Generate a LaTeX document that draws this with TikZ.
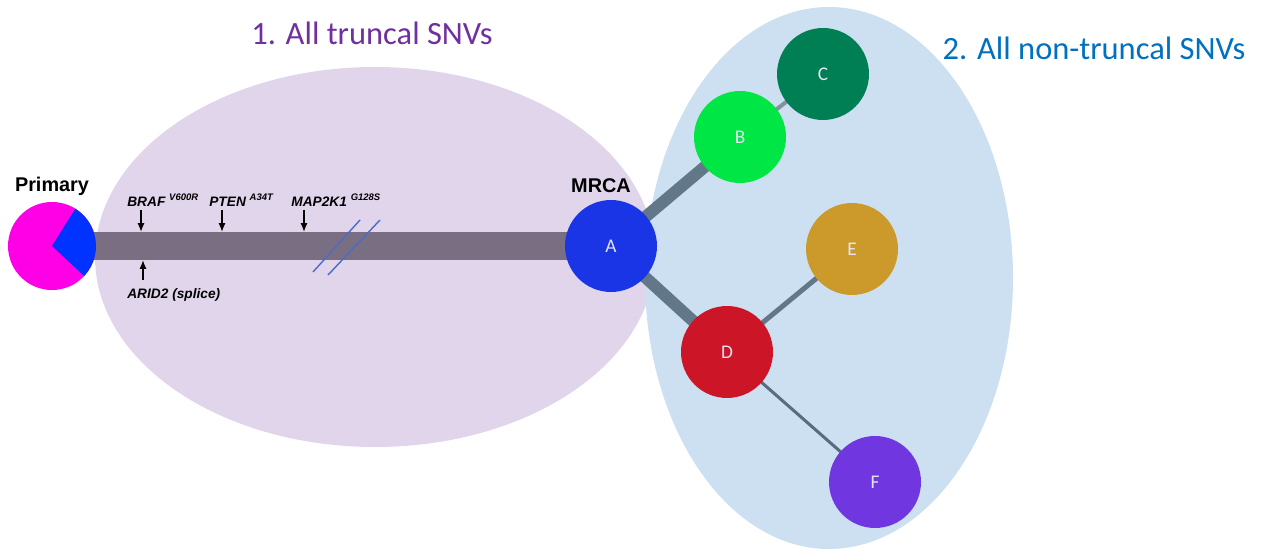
\documentclass[tikz,border=0pt]{standalone}
\usepackage{fontspec}
\setmainfont{Carlito}
\newfontfamily\arialfont{Liberation Sans}
\usetikzlibrary{arrows.meta,calc}
\definecolor{truncalbg}{HTML}{E1D5EB}
\definecolor{branchbg}{HTML}{CCE0F1}
\definecolor{truncaltxt}{HTML}{7030A0}
\definecolor{branchtxt}{HTML}{0070C0}
\definecolor{trunk}{HTML}{7A6E82}
\definecolor{edgecol}{HTML}{627888}
\definecolor{breakcol}{HTML}{4A6CC8}
\definecolor{piemag}{HTML}{FF00E6}
\definecolor{pieblue}{HTML}{0033FF}
\definecolor{cA}{HTML}{1A35E6}
\definecolor{cB}{HTML}{00E645}
\definecolor{cC}{HTML}{007F55}
\definecolor{cD}{HTML}{CC1628}
\definecolor{cE}{HTML}{CC9A2B}
\definecolor{cF}{HTML}{7036DF}
\definecolor{clonetxt}{HTML}{E4E4F4}
\tikzset{
  clone/.style={circle, minimum size=1.84cm, inner sep=0pt, text=clonetxt,
    font=\fontsize{11}{13}\selectfont},
  title/.style={font=\fontsize{18.5}{22}\selectfont},
  gene/.style={anchor=base west, inner sep=0pt,
    font=\arialfont\bfseries\itshape\fontsize{7.8}{9}\selectfont},
  mut/.style={-{Latex[length=5pt,width=4pt]}, line width=0.9pt},
  branch/.style={edgecol, line cap=butt},
  brk/.style={breakcol, line width=0.8pt},
  bold label/.style={font=\arialfont\bfseries\fontsize{11.3}{13}\selectfont, inner sep=0pt}
}
\newcommand{\mutsup}[1]{\ \raisebox{0.45em}{\fontsize{5.4}{6}\selectfont #1}}
\begin{document}
\begin{tikzpicture}[x=0.02cm, y=-0.02cm]
\useasboundingbox (0,0) rectangle (1263,550);

% background groups
\fill[truncalbg] (375,257) ellipse [x radius=280, y radius=190];
\fill[branchbg] (829,278) ellipse [x radius=184, y radius=271];

\node[title, text=truncaltxt] (t1) at (372,33) {1. All truncal SNVs};
\node[title, text=branchtxt] (t2) at (1094,48) {2. All non-truncal SNVs};

% node positions
\coordinate (pc) at (52,246);
\coordinate (ac) at (611,246);
\coordinate (bc) at (740,137);
\coordinate (cc) at (823,74);
\coordinate (dc) at (727,352);
\coordinate (ec) at (852,249);
\coordinate (fc) at (875,482);

% truncal trunk
\fill[trunk] ($(pc)+(0,-14)$) rectangle ($(ac)+(0,14)$);
\draw[brk] (313,272) -- (360,220);
\draw[brk] (328,275) -- (380,220);

% branches
\draw[branch, line width=0.24cm] (ac) -- (bc);
\draw[branch, line width=0.24cm] (ac) -- (dc);
\draw[branch, edgecol!80!white, line width=0.08cm] (bc) -- (cc);
\draw[branch, line width=0.1cm] (dc) -- (ec);
\draw[branch, edgecol!90!black, line width=0.06cm] (dc) -- (fc);

% primary tumour pie
\node[circle, minimum size=1.76cm, inner sep=0pt, fill=piemag] (pie) at (pc) {};
\fill[pieblue] (pie.center) -- ++(-43:0.88cm) arc[start angle=-43, end angle=58, radius=0.88cm] -- cycle;
\node[bold label] (prim) at (52,186) {Primary};

% clones
\node[clone, fill=cA] (A) at (ac) {A};
\node[clone, fill=cB] (B) at (bc) {B};
\node[clone, fill=cC] (C) at (cc) {C};
\node[clone, fill=cD] (D) at (dc) {D};
\node[clone, fill=cE] (E) at (ec) {E};
\node[clone, fill=cF] (F) at (fc) {F};
\node[bold label] (mrca) at (601,186) {MRCA};

% truncal driver mutations
\node[gene] (braf) at (127,207) {BRAF\mutsup{V600R}};
\node[gene] (pten) at (209,207) {PTEN\mutsup{A34T}};
\node[gene] (map) at (291,207) {MAP2K1\mutsup{G128S}};
\node[gene] (arid) at (127,298) {ARID2 (splice)};

\coordinate (brafT) at (141,210); \coordinate (brafH) at (141,232);
\coordinate (ptenT) at (222,210); \coordinate (ptenH) at (222,232);
\coordinate (mapT) at (304,210);  \coordinate (mapH) at (304,232);
\coordinate (aridT) at (143,280); \coordinate (aridH) at (143,260);
\draw[mut] (brafT) -- (brafH);
\draw[mut] (ptenT) -- (ptenH);
\draw[mut] (mapT) -- (mapH);
\draw[mut] (aridT) -- (aridH);
\end{tikzpicture}
\end{document}
